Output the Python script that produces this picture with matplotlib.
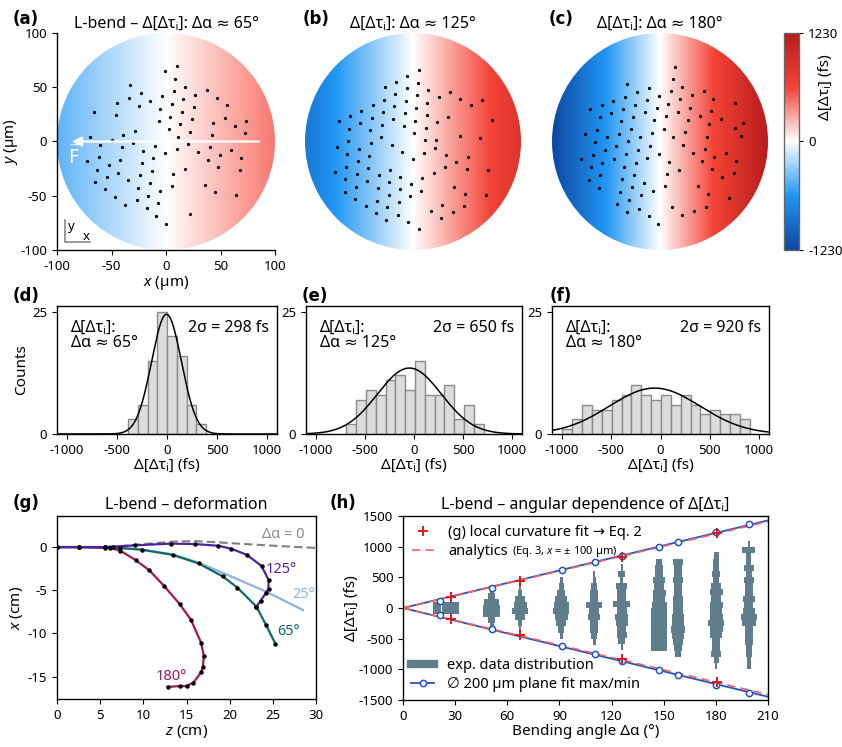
import numpy as np
import matplotlib
matplotlib.use('Agg')
import matplotlib.pyplot as plt
from matplotlib.colors import LinearSegmentedColormap
from matplotlib.patches import Circle
from matplotlib.lines import Line2D

plt.rcParams['font.family'] = ['Noto Sans', 'DejaVu Sans']
plt.rcParams['mathtext.fontset'] = 'custom'
plt.rcParams['mathtext.rm'] = 'Noto Sans'
plt.rcParams['mathtext.it'] = 'Noto Sans:italic'
plt.rcParams['mathtext.bf'] = 'Noto Sans:bold'
plt.rcParams['axes.unicode_minus'] = False
plt.rcParams['xtick.labelsize'] = 9.5
plt.rcParams['ytick.labelsize'] = 9.5
plt.rcParams['axes.linewidth'] = 1.0

TAU = 'Δ[Δτᵢ]'

# ---------------- data ----------------
# panel a-c: bending angle and edge value of the gradient (fs at x = 100 um)
map_angles = [65, 125, 180]
map_edge_fs = [442, 850, 1226]
cbar_lim = 1230

a_x = [-0.6, 10, 8.5, -32.6, 17.7, 7, 37.5, -23, -3.7, 26.5, 46.6, -34, -45, -14.3, 15.9, -25, 5.5, 25.3, 55.8, -5.2,
       -66, 14.6, -46.3, 4, 23.8, 54.3, -6.7, 43.3, 73.8, 13.1, 63.4, -28, 2.4, 22, 72.6, 42, -39, 11.3, -69.5, -49.7,
       -29.9, 20.4, -60.4, -10, 40.2, -40.5, 9.8, 60, -20.7, 29.6, -0.9, 49.4, -61.6, -11.6, 69.2, 38.7, -42, -72.6, -22.3, -52.7,
       47.9, -63.4, -13.1, 17.4, 67.7, -43.6, 6.7, -23.8, -54.3, -34.5, -64.9, -14.6, 35.7, 5.2, -25.3, -55.8, -5.5, 44.8, -16.2, -46.6,
       64.6, -26.8, -7, -37.5, -17.7, 22, -9.1, 0]
a_y = [65, 69.3, 57.7, 51.8, 50.3, 46.3, 47.9, 44.5, 41.7, 43.3, 40.5, 40.2, 35.9, 37.4, 39, 33.1, 34.7, 31.9, 33.4, 30.4,
       27, 27.3, 24.5, 23, 20.6, 21.8, 18.7, 17.5, 19, 16, 14.7, 10.1, 11.7, 8.9, 7.7, 6.1, 5.8, 4.6, 4.3, 1.5,
       -1.5, -2.5, -3.1, -3.7, -5.2, -5.2, -6.7, -8, -8.3, -9.5, -11, -12.3, -14.1, -15.6, -15.3, -16.9, -16.9, -18.4, -19.9, -21.5,
       -23.9, -26.1, -27, -25.5, -26.7, -28.8, -29.8, -31.3, -32.8, -35.9, -37.4, -38.3, -39.9, -41.4, -42.6, -44.2, -45.7, -46.9, -50, -51.5,
       -49.7, -54.3, -57, -58.6, -61.7, -67.2, -68.7, -75.8]

b_x = [5.6, -5.2, -15.4, 4.3, -25.9, -5.9, 34.3, 13.6, -16.7, 3.4, 23.8, 43.8, 64.2, -26.9, -6.8, 13, 53.7, -37.3, -17.3, 2.8,
       -48.1, -27.8, -7.7, 12.7, 32.7, -58.6, -38.3, -18.2, 2.2, 22.2, 73.1, -68.8, -48.8, -28.7, -8.3, 11.7, -59.3, -39.5, 1.2, 43.2,
       -29.3, 61.7, 21.6, -59.9, 10.8, -38.6, -19.4, -70.4, 20.7, -50.3, -10.2, 9.9, 30.2, 50.6, -60.8, -40.7, -51.2, 39.8, -61.7, -41.7,
       -21.3, 19.1, 29.6, 49.7, 69.8, -72.2, -52.2, -31.8, -11.7, 8.6, -62.6, -42.3, -2.2, -21.9, 38.3, -52.5, -32.7, -12.3, 7.7, 48.1,
       67.9, -63.3, -22.5, -2.8, -53.7, -33.6, -13.3, 26.9, 47.2, -43.8, -24.1, 16.7, 36.7, -34.3, -14.2, 26.2, -24.7, -4.3, 5.2, -0.3]
b_y = [65.7, 60.5, 55.2, 54, 50.3, 49.1, 46, 47.5, 44.1, 42.6, 40.7, 39.5, 38.3, 38.6, 37, 35.8, 33.3, 33.6, 32.4, 30.9,
       28.4, 27.2, 25.9, 24.7, 22.8, 23.1, 21.9, 20.7, 19.1, 17.9, 19.8, 18.5, 17, 15.4, 14.2, 12.7, 11.7, 10.2, 7.4, 4.9,
       3.7, 3.1, 1.5, 0.3, 1.2, -1.2, -2.8, -4.9, -5.6, -6.5, -9.3, -10.8, -12, -13.9, -11.7, -13, -18.2, -18.5, -23.1, -24.7,
       -25.9, -29, -23.8, -25, -26.2, -28.1, -29.6, -31.2, -32.4, -33.6, -34.9, -36.1, -39.2, -37.7, -41.7, -41.7, -42.6, -44.1, -45.7, -48.1,
       -49.7, -46.3, -49.4, -50.6, -52.8, -54.6, -55.6, -58.6, -59.9, -59.3, -60.8, -63.6, -65.1, -66, -67.6, -70.1, -72.5, -74.1, -80.9, -15.7]

c_x = [13.9, 11.7, -30.2, -10.2, 20.7, -21, 9.9, 40.7, -32.1, -1.2, 18.8, 49.4, -43.2, -12, 29.3, -54, -23.1, 7.7, 69.4, -65.1,
       -34, -3.1, 27.8, -45.1, -14.2, 16.7, 47.5, -55.9, -25, 5.9, 36.7, 56.8, -36.1, -5.2, 25.6, 76.5, 45.4, -58.3, -27.2, 3.7,
       69.1, -69.1, -38.3, -7.4, 23.5, 43.8, 74.7, -49.4, -18.5, 12.3, -60.2, -29.3, -9.3, 21.6, 41.7, 61.4, -40.4, -51.2, -20.4, -0.6,
       30.6, 50.3, -62.3, -31.5, 70.4, -73.5, -42.6, -11.7, 8.3, 39.2, -63.9, -53.4, -33.6, -22.5, 17.6, 48.5, 68.5, -55.2, -24.4, 6.5,
       57.4, -66, -35.2, -15.1, 4.6, 35.5, -56.5, -26.2, -6.5, -37.3, 44.4, -17.3, 64.2, -28.4, -39.5, 11.4, 42.6, -19.8, 31.2, -30.2,
       20.4, -10.5, -1.5]
c_y = [69.1, 57.7, 53.1, 49.4, 50, 46, 46.6, 46.9, 41.4, 42, 39.2, 39.2, 37.7, 38.3, 42.9, 33.6, 34, 34.6, 35.5, 29.9,
       30.2, 30.6, 31.2, 26.5, 27.2, 27.5, 28.1, 22.5, 22.8, 23.1, 23.8, 20.4, 18.8, 19.4, 19.8, 16.7, 16, 10.8, 11.4, 11.7,
       12.7, 6.8, 7.1, 7.7, 8.3, 4.6, 5.2, 3.7, 4, 4.3, -0.6, 0, -3.7, -3.4, -6.8, -10.5, -4.3, -8, -7.7, -11.1,
       -10.8, -14.2, -12, -11.4, -17.6, -16.4, -15.7, -15.1, -18.8, -18.2, -23.8, -19.8, -23.1, -19.4, -26.2, -25.6, -29.3, -31.2, -30.6, -29.9,
       -33, -35.2, -34.6, -38.3, -41.4, -41.4, -42.6, -42, -45.7, -46.3, -48.8, -49.7, -52.2, -53.7, -57.4, -60.8, -60.2, -62.3, -64.2, -65.1,
       -68.2, -68.8, -75.9]

# histograms d-f (fs bins, counts) and Gaussian fits
d_left = [-390, -292, -195, -97, 0, 98, 195, 293]
d_counts = [3, 6, 15, 25, 20, 16, 6, 2]
e_left = [-690, -590, -490, -390, -290, -190, -90, 10, 110, 210, 310, 410, 510, 610]
e_counts = [2, 7, 9, 8, 11, 12, 9, 15, 8, 8, 10, 3, 6, 2]
f_left = [-995, -895, -795, -695, -595, -495, -395, -295, -195, -95, 5, 105, 205, 305, 405, 505, 605, 705, 805]
f_counts = [1, 3, 6, 5, 5, 7, 8, 10, 8, 7, 8, 6, 8, 6, 4, 5, 4, 4, 3]
hist_binw = [97, 100, 100]
gauss_amp = [24.5, 13.5, 9.4]
gauss_mu = [-5, -47, -59]
two_sigma = [298, 650, 920]

# panel g: deformation curves (z, x in cm)
g0_z = [0, 5, 7.3, 10, 13.8, 16, 18.1, 21, 24.3, 27, 30]
g0_x = [0, 0, 0.1, 0.35, 0.65, 0.68, 0.58, 0.4, 0.2, 0.05, -0.1]
g125_z = [0, 2.5, 5.6, 6.5, 9, 13.2, 16, 18.7, 20.2, 22, 23.7, 24.5, 24.5, 24.2, 23.6, 23.1]
g125_x = [0, 0, 0, 0.05, 0.2, 0.4, 0.35, 0.15, -0.2, -0.9, -2.2, -3.8, -4.8, -5.3, -6.2, -6.9]
g25_z = [0, 5, 7.3, 9.8, 13.4, 16.4, 20.4, 24.3, 28.5]
g25_x = [0, 0, -0.1, -0.3, -0.85, -1.8, -3.5, -5.2, -7.3]
g65_z = [0, 2.5, 5.6, 7.3, 9.8, 13.4, 16.4, 19.2, 20.9, 23.1, 24.2, 25.3]
g65_x = [0, 0, 0, -0.1, -0.3, -0.9, -1.9, -3.4, -4.7, -6.9, -9.0, -11.2]
g180_z = [0, 2.5, 5.6, 6.1, 7.3, 9.1, 10.7, 12.4, 14.2, 15.5, 16.7, 17.0, 16.9, 16.7, 15.8, 15.0, 14.3, 12.8]
g180_x = [0, 0, -0.1, -0.1, -0.4, -1.5, -2.7, -4.5, -6.6, -8.4, -11.1, -12.6, -13.9, -14.5, -15.7, -16.1, -16.1, -16.2]

# panel h: plane fit max/min, local-curvature fit, analytics slopes
fit_ang = [21, 51.3, 91.3, 110.3, 125.8, 147.4, 158.3, 180.2, 199]
fit_max = [120, 327, 622, 742, 845, 998, 1080, 1244, 1375]
fit_min = [-115, -338, -616, -753, -862, -1009, -1091, -1255, -1380]
fit_slope_max = 6.80
fit_slope_min = -6.89
curv_ang = [27.5, 67.4, 125.8, 180.4]
curv_max = [175, 447, 835, 1217]
curv_min = [-180, -436, -835, -1200]
analytic_slope = 6.72

# exp. data distributions (angle, lowest bin edge, relative counts per 100 fs bin, bottom-up)
dist_ang = [19.5, 27.3, 51, 91, 110, 147.4, 158.3, 199]
dist_low = [-100, -105, -350, -500, -600, -700, -800, -1000]
dist_counts = [
    [4.5, 4.5],
    [10, 10],
    [2.5, 4, 10, 10, 9, 4, 2.5],
    [2, 4, 6, 8, 10, 9, 7, 5, 3, 2],
    [2, 3.5, 5, 5, 7, 6, 10, 5, 5, 4, 2, 1.5],
    [10, 10, 10, 10, 10, 10, 10, 9, 7, 8, 6, 7, 5, 5, 4],
    [3.5, 5, 6, 7, 9, 7, 7, 6.5, 6, 6.5, 5, 5, 6.5, 5, 5, 6],
    [2.5, 2.5, 3.5, 3.5, 4.5, 4.5, 4.5, 9, 10, 7.5, 5.5, 7, 5, 5, 6, 4, 6.5, 3, 3, 8, 1],
]
hist_dist_ang = [67.4, 125.8, 180.2]

# ---------------- styles ----------------
cmap = LinearSegmentedColormap.from_list('bwr_mat', [(0, '#0d47a1'), (0.25, '#2196f3'), (0.5, '#ffffff'),
                                                     (0.75, '#f44336'), (1, '#b71c1c')])
W, H = 842, 747
fig = plt.figure(figsize=(W / 100, H / 100), dpi=100)


def ax_px(l, t, r, b):
    return fig.add_axes([l / W, 1 - b / H, (r - l) / W, (b - t) / H])


def plabel(x, y, s):
    fig.text(x / W, 1 - y / H, s, fontsize=12, fontweight='bold', family='DejaVu Sans',
             va='baseline', ha='left')


# ---------------- panels a-c ----------------
X, Y = np.meshgrid(np.linspace(-100, 100, 500), np.linspace(-100, 100, 500))
map_boxes = [(57, 33, 275, 250), (305, 33, 521, 250), (552, 33, 768, 250)]
map_pts = [(a_x, a_y), (b_x, b_y), (c_x, c_y)]
titles = ['L-bend – ' + TAU + ': Δα ≈ 65°', TAU + ': Δα ≈ 125°', TAU + ': Δα ≈ 180°']
im = None
for i, box in enumerate(map_boxes):
    ax = ax_px(*box)
    im = ax.imshow(map_edge_fs[i] * X / 100, extent=[-100, 100, -100, 100], origin='lower', cmap=cmap,
                   vmin=-cbar_lim, vmax=cbar_lim, interpolation='bilinear', aspect='auto')
    circ = Circle((0, 0), 100, transform=ax.transData, facecolor='none', edgecolor='none')
    ax.add_patch(circ)
    im.set_clip_path(circ)
    ax.scatter(map_pts[i][0], map_pts[i][1], s=5.5, color='black', zorder=3, linewidths=0)
    ax.set_xlim(-100, 100)
    ax.set_ylim(-100, 100)
    ax.set_title(titles[i], fontsize=11.5, pad=4)
    if i == 0:
        for s in ['top', 'right']:
            ax.spines[s].set_visible(False)
        ax.set_xticks([-100, -50, 0, 50, 100])
        ax.set_yticks([-100, -50, 0, 50, 100])
        ax.set_xlabel('$\\mathit{x}$ (µm)', fontsize=11, labelpad=1)
        ax.set_ylabel('$\\mathit{y}$ (µm)', fontsize=11, labelpad=0)
        ax.annotate('', xy=(-89, 0), xytext=(88, 0),
                    arrowprops=dict(arrowstyle='-|>', color='white', lw=1.6, mutation_scale=14))
        ax.text(-84, -14, '$\\vec{\\mathrm{F}}$', color='white', fontsize=14, ha='center', va='center')
        ax.plot([-92.4, -92.4, -69.5], [-72, -93, -93], color='#888888', lw=1.2)
        ax.text(-87, -78, 'y', fontsize=9.5, ha='center', va='center')
        ax.text(-73, -87.5, 'x', fontsize=9.5, ha='center', va='center')
    else:
        ax.axis('off')

cax = ax_px(784, 33, 799, 250)
cb = fig.colorbar(im, cax=cax, ticks=[-cbar_lim, 0, cbar_lim])
cb.outline.set_edgecolor('#666666')
cax.tick_params(labelsize=9.5, length=3)
cax.set_ylabel(TAU + ' (fs)', fontsize=11)
cax.yaxis.set_label_coords(2.25, 0.75)

plabel(13, 24, '(a)')
plabel(303, 24, '(b)')
plabel(549, 24, '(c)')

# ---------------- panels d-f ----------------
hist_boxes = [(57, 306, 277, 434), (306, 306, 522, 434), (552, 306, 769, 434)]
hist_left = [d_left, e_left, f_left]
hist_counts = [d_counts, e_counts, f_counts]
xx = np.linspace(-1100, 1100, 500)
for i, box in enumerate(hist_boxes):
    ax = ax_px(*box)
    ax.bar(hist_left[i], hist_counts[i], width=hist_binw[i], align='edge', color='#dcdcdc',
           edgecolor='#8a8a8a', linewidth=1.0)
    sig = two_sigma[i] / 2
    ax.plot(xx, gauss_amp[i] * np.exp(-(xx - gauss_mu[i]) ** 2 / (2 * sig ** 2)), color='black', lw=1.1)
    ax.set_xlim(-1100, 1100)
    ax.set_ylim(0, 26.2)
    ax.set_yticks([0, 25])
    ax.set_xticks([-1000, -500, 0, 500, 1000])
    ax.set_xlabel(TAU + ' (fs)', fontsize=11, labelpad=1)
    ax.text(0.065, 0.89, TAU + ':\nΔα ≈ %d°' % map_angles[i], transform=ax.transAxes, fontsize=11.5,
            va='top', ha='left', linespacing=0.95)
    ax.text(0.965, 0.89, '2σ = %d fs' % two_sigma[i], transform=ax.transAxes, fontsize=11.5,
            va='top', ha='right')
    if i == 0:
        ax.set_ylabel('Counts', fontsize=11, labelpad=2)

plabel(13, 301, '(d)')
plabel(302, 301, '(e)')
plabel(550, 301, '(f)')

# ---------------- panel g ----------------
ax = ax_px(57, 516, 316, 699)
c0, c125, c25, c65, c180 = '#7f7f7f', '#4f22a3', '#8fb0e0', '#0d6b6b', '#a0175a'
ax.plot(g0_z, g0_x, color=c0, lw=1.5, dashes=(4, 2))
ax.plot(g25_z, g25_x, color=c25, lw=1.6)
ax.plot(g180_z, g180_x, color=c180, lw=1.6)
ax.plot(g65_z, g65_x, color=c65, lw=1.6)
ax.plot(g125_z, g125_x, color=c125, lw=1.6)
for zz, xv in [(g180_z, g180_x), (g65_z, g65_x), (g125_z, g125_x)]:
    ax.plot(zz, xv, 'o', color='black', ms=2.2, zorder=5)
ax.text(26.2, 1.4, 'Δα = 0', color='#8a8a8a', fontsize=10.5, ha='center', va='center')
ax.text(26.0, -2.6, '125°', color=c125, fontsize=10.5, ha='center', va='center')
ax.text(28.6, -5.5, '25°', color=c25, fontsize=10.5, ha='center', va='center')
ax.text(26.8, -9.8, '65°', color=c65, fontsize=10.5, ha='center', va='center')
ax.text(13.2, -15.0, '180°', color=c180, fontsize=10.5, ha='center', va='center')
ax.set_xlim(0, 30)
ax.set_ylim(-17.6, 3.6)
ax.set_xticks([0, 5, 10, 15, 20, 25, 30])
ax.set_yticks([-15, -10, -5, 0])
ax.set_xlabel('$\\mathit{z}$ (cm)', fontsize=11, labelpad=1)
ax.set_ylabel('$\\mathit{x}$ (cm)', fontsize=11, labelpad=2)
ax.set_title('L-bend – deformation', fontsize=11.5, pad=5)
plabel(13, 508, '(g)')

# ---------------- panel h ----------------
ax = ax_px(403, 516, 768, 700)
dcol = '#607d8b'
half_max = 4.7
for k, ang in enumerate(dist_ang):
    cnt = np.array(dist_counts[k], dtype=float)
    cen = dist_low[k] + 50 + 100 * np.arange(len(cnt))
    half = cnt / 10 * half_max
    ax.barh(cen, 2 * half, height=100, left=ang - half, color=dcol, linewidth=0)
for k, ang in enumerate(hist_dist_ang):
    cnt = np.array(hist_counts[k], dtype=float)
    cen = np.array(hist_left[k]) + hist_binw[k] / 2
    half = cnt / cnt.max() * half_max
    ax.barh(cen, 2 * half, height=hist_binw[k], left=ang - half, color=dcol, linewidth=0)

xl = np.array([0, 210])
bcol = '#2453c2'
ax.plot(xl, fit_slope_max * xl, color=bcol, lw=1.3)
ax.plot(xl, fit_slope_min * xl, color=bcol, lw=1.3)
ax.plot(xl, analytic_slope * xl, color='#ff5c5c', lw=1.2, dashes=(5, 3))
ax.plot(xl, -analytic_slope * xl, color='#ff5c5c', lw=1.2, dashes=(5, 3))
ax.plot(fit_ang, fit_max, 'o', mfc='white', mec=bcol, mew=1.1, ms=4.5, zorder=5)
ax.plot(fit_ang, fit_min, 'o', mfc='white', mec=bcol, mew=1.1, ms=4.5, zorder=5)
ax.plot(curv_ang, curv_max, '+', color='#e8141a', ms=7, mew=1.4, zorder=6)
ax.plot(curv_ang, curv_min, '+', color='#e8141a', ms=7, mew=1.4, zorder=6)
ax.set_xlim(0, 210)
ax.set_ylim(-1500, 1500)
ax.set_xticks([0, 30, 60, 90, 120, 150, 180, 210])
ax.set_yticks([-1500, -1000, -500, 0, 500, 1000, 1500])
ax.set_xlabel('Bending angle Δα (°)', fontsize=11, labelpad=1)
ax.set_ylabel(TAU + ' (fs)', fontsize=11, labelpad=0)
ax.set_title('L-bend – angular dependence of ' + TAU, fontsize=11.5, pad=5)
plabel(330, 508, '(h)')

h1 = Line2D([], [], ls='none', marker='+', color='#e8141a', ms=7, mew=1.4)
h2 = Line2D([], [], color='#ff5c5c', lw=1.2, dashes=(5, 3))
leg1 = ax.legend([h1, h2], ['(g) local curvature fit → Eq. 2', 'analytics'], loc='upper left',
                 frameon=False, fontsize=10.5, handlelength=1.6, handletextpad=0.9,
                 borderaxespad=0.2, labelspacing=0.3)
ax.add_artist(leg1)
h3 = Line2D([], [], color=dcol, lw=6)
h4 = Line2D([], [], color=bcol, lw=1.3, marker='o', mfc='white', mec=bcol, ms=4.5, mew=1.1)
ax.legend([h3, h4], ['exp. data distribution', '∅ 200 µm plane fit max/min'], loc='lower left',
          frameon=False, fontsize=10.5, handlelength=1.6, handletextpad=0.9,
          borderaxespad=0.15, labelspacing=0.3)

fig.canvas.draw()
t = leg1.get_texts()[1]
bb = t.get_window_extent()
fig.text((bb.x1 + 4) / fig.bbox.width, (bb.y0 + bb.y1) / 2 / fig.bbox.height,
         '(Eq. 3, $\\mathit{x}$ = ± 100 µm)', fontsize=8, va='center', ha='left')

fig.savefig('out.png', dpi=100)
